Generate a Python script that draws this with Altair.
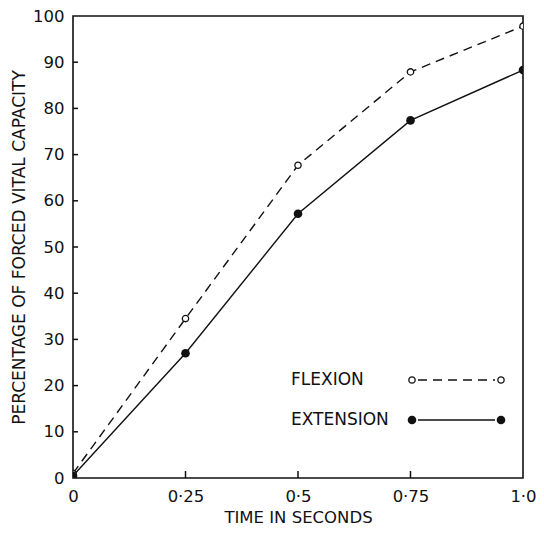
import altair as alt
import pandas as pd

# ---- data ----
time_s = [0, 0.25, 0.5, 0.75, 1.0]
flexion = [1.0, 34.5, 67.7, 87.9, 97.8]
extension = [0.5, 27.0, 57.2, 77.4, 88.3]

x_tick_values = [0, 0.25, 0.5, 0.75, 1.0]
x_tick_labels = ["0", "0·25", "0·5", "0·75", "1·0"]
y_tick_values = [0, 10, 20, 30, 40, 50, 60, 70, 80, 90, 100]
inner_x_ticks = [0.25, 0.5, 0.75]
inner_y_ticks = [10, 20, 30, 40, 50, 60, 70, 80, 90]

series_names = ["FLEXION", "EXTENSION"]

W, H = 450, 462
FONT = "DejaVu Sans"
INK = "#111111"

df_flex = pd.DataFrame({"t": time_s, "v": flexion})
df_ext = pd.DataFrame({"t": time_s, "v": extension})
df_xt = pd.DataFrame({"t": inner_x_ticks})
df_yt = pd.DataFrame({"v": inner_y_ticks})

label_expr = " : ".join(
    f"datum.value == {v} ? '{l}'" for v, l in zip(x_tick_values, x_tick_labels)
) + " : datum.label"

xscale = alt.Scale(domain=[0, 1], nice=False, zero=False)
yscale = alt.Scale(domain=[0, 100], nice=False)

xaxis = alt.Axis(
    values=x_tick_values, labelExpr=label_expr, title="TIME IN SECONDS",
    ticks=False, grid=False, domain=False, labelFont=FONT, labelFontSize=16.5,
    labelColor=INK, labelPadding=10, titleFont=FONT, titleFontSize=16.5,
    titleFontWeight="normal", titleColor=INK, titlePadding=5, labelFlush=False,
)
yaxis = alt.Axis(
    values=y_tick_values, title="PERCENTAGE OF FORCED VITAL CAPACITY",
    ticks=False, grid=False, domain=False, labelFont=FONT, labelFontSize=16.5,
    labelColor=INK, labelPadding=9, titleFont=FONT, titleFontSize=17,
    titleFontWeight="normal", titleColor=INK, titlePadding=4, labelFlush=False,
)

base_flex = alt.Chart(df_flex).encode(
    x=alt.X("t:Q", scale=xscale, axis=xaxis),
    y=alt.Y("v:Q", scale=yscale, axis=yaxis),
)
line_flex = base_flex.mark_line(color=INK, strokeWidth=1.4, strokeDash=[9, 6])
pts_flex = base_flex.mark_point(
    shape="circle", filled=True, fill="white", stroke=INK, strokeWidth=1.3,
    size=40, opacity=1, clip=True,
)

base_ext = alt.Chart(df_ext).encode(
    x=alt.X("t:Q", scale=xscale), y=alt.Y("v:Q", scale=yscale)
)
line_ext = base_ext.mark_line(color=INK, strokeWidth=1.4)
pts_ext = base_ext.mark_circle(color=INK, size=75, opacity=1, clip=True)

xticks = alt.Chart(df_xt).mark_rule(color=INK, strokeWidth=1.5).encode(
    x=alt.X("t:Q", scale=xscale), y=alt.value(H), y2=alt.value(H - 7)
)
yticks = alt.Chart(df_yt).mark_rule(color=INK, strokeWidth=1.5).encode(
    y=alt.Y("v:Q", scale=yscale), x=alt.value(0), x2=alt.value(5)
)

# ---- in-plot legend ----
def legend_row(label, y, dashed, filled):
    txt = alt.Chart().mark_text(
        text=label, font=FONT, fontSize=17, color=INK, align="left", baseline="middle"
    ).encode(x=alt.value(218), y=alt.value(y))
    rule_kw = dict(color=INK, strokeWidth=1.4)
    if dashed:
        rule_kw["strokeDash"] = [9, 6]
    rule = alt.Chart().mark_rule(**rule_kw).encode(
        x=alt.value(345), x2=alt.value(422), y=alt.value(y)
    )
    layers = [txt, rule]
    for px in (339, 428):
        if filled:
            m = alt.Chart().mark_circle(color=INK, size=75, opacity=1)
        else:
            m = alt.Chart().mark_point(
                shape="circle", filled=True, fill="white", stroke=INK,
                strokeWidth=1.3, size=40, opacity=1,
            )
        layers.append(m.encode(x=alt.value(px), y=alt.value(y)))
    return layers

legend_layers = legend_row(series_names[0], 364, True, False) + \
    legend_row(series_names[1], 404, False, True)

chart = alt.layer(
    line_flex, line_ext, xticks, yticks, pts_flex, pts_ext, *legend_layers
).properties(
    width=W, height=H,
    autosize=alt.AutoSizeParams(type="none"),
    padding={"left": 65, "top": 8, "right": 13, "bottom": 48},
    background="white",
).configure_view(
    stroke=INK, strokeWidth=1.6
)

chart.save("out.html", embed_options={"renderer": "svg", "actions": False})
